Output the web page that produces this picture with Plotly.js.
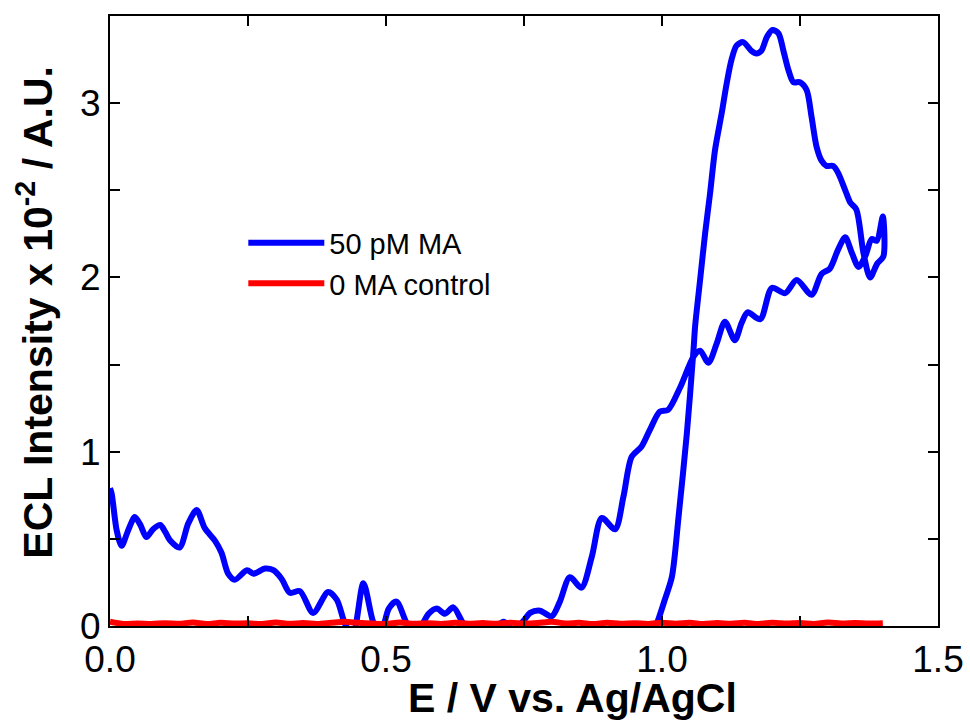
<!DOCTYPE html>
<html>
<head>
<meta charset="utf-8">
<script src="https://cdn.plot.ly/plotly-3.0.1.min.js"></script>
<style>html,body{margin:0;padding:0;background:#fff;}#chart{width:970px;height:726px;}</style>
</head>
<body>
<div id="chart"></div>
<script>
// 50 pM MA (forward scan 0 -> 1.4 V, then reverse scan back)
var maX = [0.000,0.003,0.012,0.021,0.033,0.045,0.055,0.066,0.078,0.091,0.100,0.109,0.126,0.142,0.157,0.172,0.190,0.202,0.214,0.226,0.248,0.260,0.281,0.296,0.311,0.326,0.344,0.368,0.395,0.411,0.426,0.440,0.459,0.477,0.490,0.505,0.519,0.540,0.555,0.577,0.592,0.607,0.622,0.643,0.665,0.690,0.713,0.730,0.749,0.761,0.779,0.800,0.815,0.833,0.854,0.873,0.891,0.915,0.930,0.945,0.963,0.978,0.996,1.011,1.033,1.057,1.069,1.084,1.099,1.114,1.132,1.144,1.155,1.178,1.199,1.223,1.244,1.271,1.289,1.304,1.319,1.332,1.344,1.356,1.368,1.380,1.389,1.400,
  1.401,1.390,1.377,1.365,1.352,1.341,1.332,1.319,1.310,1.298,1.289,1.280,1.271,1.262,1.250,1.238,1.229,1.220,1.211,1.200,1.190,1.180,1.171,1.162,1.147,1.135,1.126,1.117,1.108,1.096,1.087,1.078,1.069,1.060,1.057,1.045,1.030,1.018,1.005,0.993,0.985,0.970];
var maY = [0.79,0.76,0.55,0.46,0.55,0.625,0.58,0.51,0.555,0.58,0.54,0.49,0.45,0.59,0.665,0.56,0.49,0.42,0.30,0.265,0.32,0.30,0.33,0.32,0.27,0.19,0.20,0.075,0.195,0.15,0.01,-0.05,0.245,0.02,-0.05,0.10,0.14,0.00,-0.04,0.07,0.10,0.07,0.107,0.00,-0.04,-0.03,0.025,-0.02,0.03,0.075,0.088,0.055,0.14,0.28,0.22,0.40,0.62,0.555,0.74,0.97,1.03,1.125,1.23,1.24,1.37,1.545,1.58,1.51,1.62,1.746,1.64,1.737,1.80,1.76,1.94,1.91,1.985,1.90,2.02,2.05,2.16,2.23,2.14,2.06,2.12,2.22,2.21,2.35,
  2.12,2.08,2.00,2.14,2.39,2.43,2.50,2.60,2.64,2.64,2.67,2.75,2.92,3.075,3.12,3.12,3.19,3.30,3.40,3.42,3.38,3.30,3.285,3.30,3.35,3.33,3.25,3.11,2.94,2.73,2.48,2.25,1.985,1.72,1.58,1.105,0.627,0.283,0.15,0.034,-0.03,-0.05];

// 0 MA control
var ctrlX = [0.000,0.025,0.050,0.075,0.100,0.125,0.150,0.175,0.200,0.225,0.250,0.275,0.300,0.325,0.350,0.375,0.400,0.425,0.450,0.475,0.500,0.525,0.550,0.575,0.600,0.625,0.650,0.675,0.700,0.725,0.750,0.775,0.800,0.825,0.850,0.875,0.900,0.925,0.950,0.975,1.000,1.025,1.050,1.075,1.100,1.125,1.150,1.175,1.200,1.225,1.250,1.275,1.300,1.325,1.350,1.375,1.400];
var ctrlY = [0.025,0.012,0.015,0.012,0.016,0.013,0.020,0.012,0.018,0.014,0.016,0.011,0.020,0.013,0.017,0.012,0.018,0.024,0.018,0.014,0.012,0.020,0.013,0.016,0.012,0.018,0.013,0.017,0.013,0.019,0.014,0.017,0.024,0.015,0.018,0.012,0.018,0.013,0.016,0.012,0.019,0.013,0.018,0.012,0.017,0.013,0.018,0.012,0.019,0.014,0.017,0.012,0.020,0.015,0.017,0.014,0.016];

var seriesNames = ["50 pM MA", "0 MA control"];
var xTitle = "E / V vs. Ag/AgCl";
var yTitle = "ECL Intensity x 10<sup>-2</sup> / A.U.";

var FONT = "Liberation Sans, Arial, sans-serif";

var traces = [
  {x: maX, y: maY, name: seriesNames[0], mode: "lines",
   line: {color: "#0000ff", width: 6, shape: "spline", smoothing: 0.8}},
  {x: ctrlX, y: ctrlY, name: seriesNames[1], mode: "lines",
   line: {color: "#ff0000", width: 6, shape: "spline", smoothing: 0.8}}
];

var axisCommon = {
  showgrid: false, zeroline: false, showline: true, linecolor: "#000", linewidth: 2,
  mirror: "allticks", ticks: "inside", ticklen: 10, tickwidth: 2, tickcolor: "#000",
  tickfont: {family: FONT, size: 37, color: "#000"}
};

var layout = {
  width: 970, height: 726,
  margin: {l: 110, r: 32, t: 16, b: 100},
  paper_bgcolor: "#fff", plot_bgcolor: "#fff",
  font: {family: FONT, color: "#000"},
  xaxis: Object.assign({}, axisCommon, {
    range: [0, 1.5], tickmode: "linear", tick0: 0, dtick: 0.5, tickformat: ".1f",
    minor: {dtick: 0.25, ticks: "inside", ticklen: 10, tickwidth: 2, tickcolor: "#000"}
  }),
  yaxis: Object.assign({}, axisCommon, {
    range: [0, 3.5], tickmode: "linear", tick0: 0, dtick: 1,
    minor: {dtick: 0.5, ticks: "inside", ticklen: 10, tickwidth: 2, tickcolor: "#000"}
  }),
  annotations: [
    {text: "<b>" + xTitle + "</b>", xref: "paper", yref: "paper", x: 0.559, y: -0.077,
     xanchor: "center", yanchor: "top", showarrow: false, font: {size: 41, family: FONT, color: "#000"}},
    {text: "<b>" + yTitle + "</b>", xref: "paper", yref: "paper", x: -0.091, y: 0.5147,
     xanchor: "center", yanchor: "middle", textangle: -90, showarrow: false, font: {size: 41, family: FONT, color: "#000"}}
  ],
  showlegend: true,
  legend: {x: 0.161, y: 0.67, xanchor: "left", yanchor: "top", bgcolor: "rgba(0,0,0,0)",
    font: {size: 29, family: FONT}, itemwidth: 76, tracegroupgap: 0}
};

Plotly.newPlot("chart", traces, layout, {displayModeBar: false, staticPlot: true});
</script>
</body>
</html>
